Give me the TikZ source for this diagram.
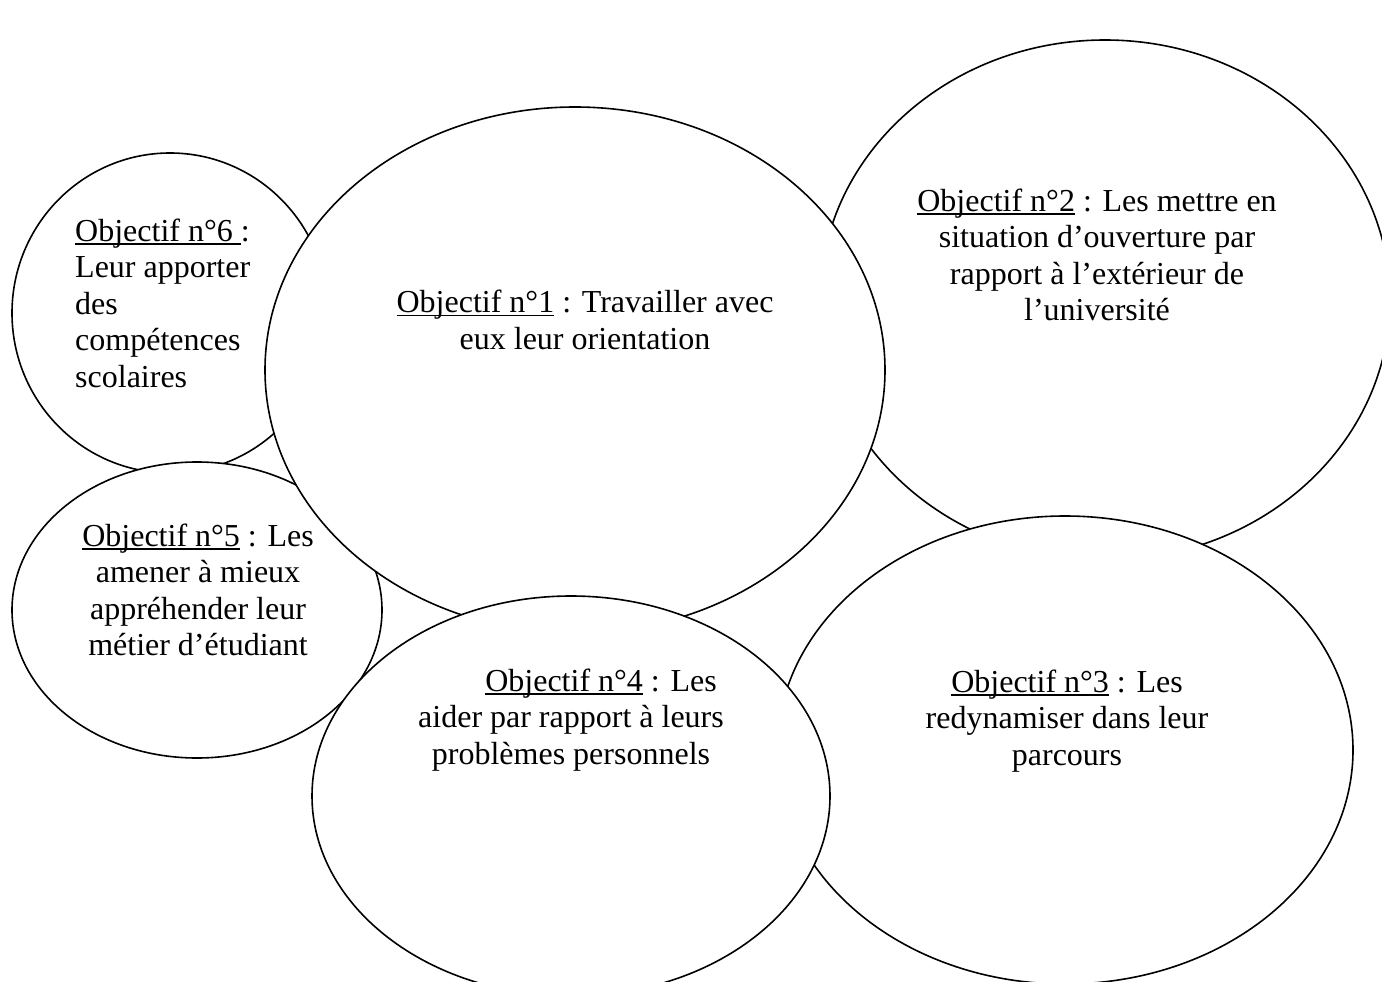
\documentclass[tikz,border=0pt]{standalone}
\usepackage{fontspec}
\setmainfont{Liberation Serif}
\usetikzlibrary{shapes.geometric}
\newcommand\ulbox[1]{\setbox0\hbox{#1}\rlap{\rule[-3.5pt]{\wd0}{1.5pt}}\box0\relax}
\begin{document}
\begin{tikzpicture}[x=1pt,y=-1pt,
  ell/.style={ellipse, draw=black, line width=1.6pt, fill=white, inner sep=0pt},
  lbl/.style={font=\fontsize{32}{36.5}\selectfont, inner sep=0pt, align=center}]
\useasboundingbox[fill=white] (0,0) rectangle (1382,982);
% ellipses in stacking order
\node[ell, minimum width=316pt, minimum height=320pt] (e6) at (170,313) {};
\node[ell, minimum width=370pt, minimum height=296pt] (e5) at (197,610) {};
\node[ell, minimum width=570pt, minimum height=520pt] (e2) at (1105,300) {};
\node[ell, minimum width=620pt, minimum height=526pt] (e1) at (575,370) {};
\node[ell, minimum width=576pt, minimum height=468pt] (e3) at (1065,750) {};
\node[ell, minimum width=518pt, minimum height=400pt] (e4) at (571,796) {};
% labels
\node[lbl, anchor=west, align=left] (t6) at (75,303) {\ulbox{Objectif n°6 }:\\Leur apporter\\des\\compétences\\scolaires};
\node[lbl] (t5) at (198,590) {\ulbox{Objectif n°5} : Les\\amener à mieux\\appréhender leur\\métier d’étudiant};
\node[lbl] (t1) at (585,320) {\ulbox{Objectif n°1} : Travailler avec\\eux leur orientation};
\node[lbl] (t2) at (1097,255) {\ulbox{Objectif n°2} : Les mettre en\\situation d’ouverture par\\rapport à l’extérieur de\\l’université};
\node[lbl] (t4) at (571,720) {\hspace*{60pt}\ulbox{Objectif n°4} : Les\\aider par rapport à leurs\\problèmes personnels};
\node[lbl] (t3) at (1067,721) {\ulbox{Objectif n°3} : Les\\redynamiser dans leur\\parcours};
\end{tikzpicture}
\end{document}
